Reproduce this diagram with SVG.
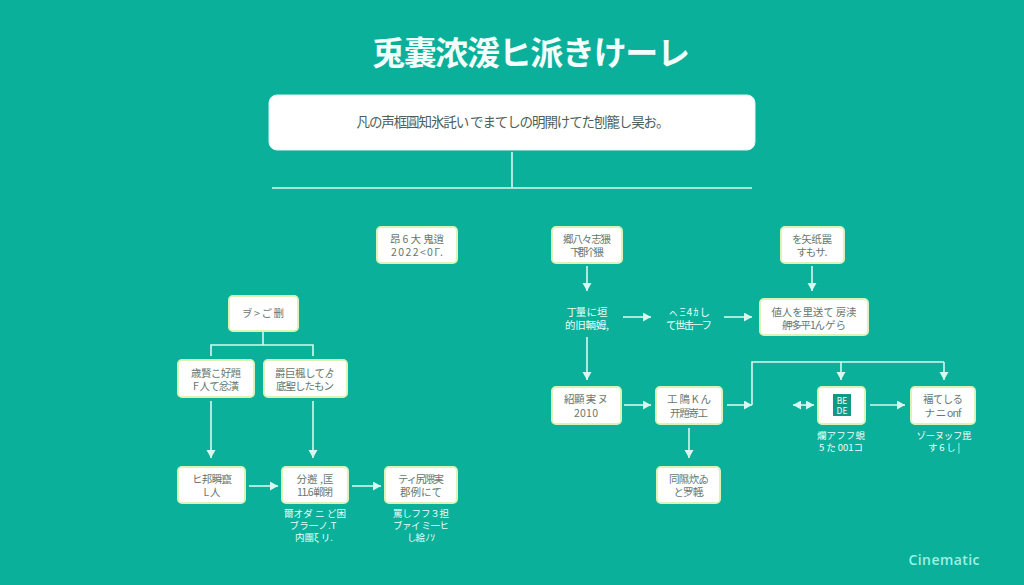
<svg xmlns="http://www.w3.org/2000/svg" width="1024" height="585" viewBox="0 0 1024 585">
<style>
text{font-family:"Noto Sans CJK JP","Noto Sans CJK SC","Liberation Sans",sans-serif;text-anchor:middle}
.box{fill:#fff;stroke:#dcf3b8;stroke-width:2}
.t{font-size:10.5px;fill:#66786f}
.w{font-size:9.5px;fill:#eafff9}
.p{font-size:10.5px;fill:#eafff9}
.c{fill:none;stroke:#d6f8ef;stroke-width:1.6}
</style>
<defs>
<marker id="a" markerUnits="userSpaceOnUse" markerWidth="10" markerHeight="10" refX="8" refY="4.5" orient="auto"><path d="M0 0L8 4.5L0 9z" fill="#d6f8ef"/></marker>
<marker id="s" markerUnits="userSpaceOnUse" markerWidth="10" markerHeight="10" refX="0" refY="4.5" orient="auto"><path d="M8 0L0 4.5L8 9z" fill="#d6f8ef"/></marker>
</defs>
<rect width="1024" height="585" fill="#0ab09a"/>
<text id="title" x="531" y="65" font-size="33" font-weight="700" fill="#f2fffb" textLength="318">兎嚢浓湲ヒ派きけーレ</text>
<g id="summary"><rect x="269" y="95" width="486" height="55" rx="8" fill="#fff" stroke="#d6f8ef"/>
<text x="513" y="127" font-size="13.5" fill="#4c5f5b" textLength="313">凡の声框圓知氷託い でまてしの明開けてた刨籠し昊お。</text></g>
<g id="connectors">
<path class="c" d="M512 152V188M272 188H752"/>
<path class="c" d="M263 331V345M211 356V345H313V356"/>
<path class="c" d="M211 401V458" marker-end="url(#a)"/>
<path class="c" d="M313 401V458" marker-end="url(#a)"/>
<path class="c" d="M249 486H278" marker-end="url(#a)"/>
<path class="c" d="M352 486H381" marker-end="url(#a)"/>
<path class="c" d="M587 266V291" marker-end="url(#a)"/>
<path class="c" d="M812 266V291" marker-end="url(#a)"/>
<path class="c" d="M623 317H651" marker-end="url(#a)"/>
<path class="c" d="M724 317H752" marker-end="url(#a)"/>
<path class="c" d="M587 337V380" marker-end="url(#a)"/>
<path class="c" d="M624 405H651" marker-end="url(#a)"/>
<path class="c" d="M727 405H752" marker-end="url(#a)"/>
<path class="c" d="M752 405V362H944"/>
<path class="c" d="M841 362V380" marker-end="url(#a)"/>
<path class="c" d="M944 362V380" marker-end="url(#a)"/>
<path class="c" d="M793 405H814" marker-start="url(#s)" marker-end="url(#a)"/>
<path class="c" d="M870 405H905" marker-end="url(#a)"/>
<path class="c" d="M689 428V458" marker-end="url(#a)"/>
</g>
<g id="n1"><rect class="box" x="377" y="227" width="80" height="36" rx="4"/><text class="t" x="417" y="243" textLength="54">昂 6 大 鬼逍</text><text class="t" x="417" y="256" textLength="52">2022&lt;0Г.</text></g>
<g id="n2"><rect class="box" x="229" y="296" width="69" height="35" rx="4"/><text class="t" x="263" y="317" textLength="42">ヺ &gt; ご 删</text></g>
<g id="n3"><rect class="box" x="178" y="360" width="76" height="37" rx="4"/><text class="t" x="216" y="377" textLength="50">歳賢こ好題</text><text class="t" x="216" y="390" textLength="46">F 人て忿潢</text></g>
<g id="n4"><rect class="box" x="264" y="360" width="83" height="37" rx="4"/><text class="t" x="305" y="377" textLength="60">爵巨楓してゟ</text><text class="t" x="305" y="390" textLength="58">底聖したもン</text></g>
<g id="n5"><rect class="box" x="178" y="467" width="67" height="36" rx="4"/><text class="t" x="212" y="483" textLength="40">ヒ邦瞬竄</text><text class="t" x="212" y="496" textLength="17">L人</text></g>
<g id="n6"><rect class="box" x="282" y="467" width="66" height="36" rx="4"/><text class="t" x="315" y="483" textLength="37">分邂 ,匡</text><text class="t" x="315" y="496" textLength="36">11.6 郸閉</text></g>
<g id="n6l"><text class="w" x="315" y="517" textLength="62">爾オダ ニ ど困</text><text class="w" x="313" y="529" textLength="47">ブラ一ノ.Т</text><text class="w" x="314" y="541" textLength="38">内團ξ リ.</text></g>
<g id="n7"><rect class="box" x="385" y="467" width="72" height="36" rx="4"/><text class="t" x="421" y="483" textLength="46">ティ尻隈実</text><text class="t" x="421" y="496" textLength="42">郡例にて</text></g>
<g id="n7l"><text class="w" x="421" y="517" textLength="56">罵しフフ３担</text><text class="w" x="421" y="529" textLength="56">ブァイ ミ一ヒ</text><text class="w" x="421" y="541" textLength="28">し絵 ﾉ ｿ</text></g>
<g id="n8"><rect class="box" x="552" y="227" width="70" height="36" rx="4"/><text class="t" x="587" y="243" textLength="48">郷八々志猥</text><text class="t" x="587" y="256" textLength="34">下郡个猥</text></g>
<g id="n9"><rect class="box" x="781" y="227" width="63" height="36" rx="4"/><text class="t" x="812" y="243" textLength="40">を矢 纸 罠</text><text class="t" x="812" y="256" textLength="31">すもサ.</text></g>
<g id="p1"><text class="p" x="587" y="316" textLength="41">丁量 に 垣</text><text class="p" x="587" y="329" textLength="44">的旧輌姆,</text></g>
<g id="p2"><text class="p" x="689" y="316" textLength="42">ㇸ Ξ 4 ｶ し</text><text class="p" x="689" y="329" textLength="46">て 世 击 一 フ</text></g>
<g id="n10"><rect class="box" x="760" y="299" width="108" height="36" rx="4"/><text class="t" x="814" y="316" textLength="85">値人を里送て 房渎</text><text class="t" x="814" y="329" textLength="64">舺多平1ん ゲ ら</text></g>
<g id="n11"><rect class="box" x="552" y="387" width="69" height="37" rx="4"/><text class="t" x="586" y="403" textLength="44">紹顯 実 ヌ</text><text class="t" x="586" y="417" textLength="24">2010</text></g>
<g id="n12"><rect class="box" x="656" y="387" width="66" height="37" rx="4"/><text class="t" x="689" y="403" textLength="44">工 隝 K ん</text><text class="t" x="689" y="417" textLength="38">开 題 嵜 工</text></g>
<g id="n13"><rect class="box" x="818" y="387" width="47" height="37" rx="4"/><rect x="833" y="394" width="18" height="22" fill="#0f9a88"/><text x="842" y="404" font-size="8.5" fill="#eafff9">BE</text><text x="842" y="414" font-size="8.5" fill="#eafff9">DE</text></g>
<g id="n13l"><text class="w" x="841" y="439" textLength="48">爛 ア フ フ 蜆</text><text class="w" x="841" y="451" textLength="44">5 た 001コ</text></g>
<g id="n14"><rect class="box" x="911" y="387" width="64" height="37" rx="4"/><text class="t" x="943" y="403" textLength="40">褔 て し る</text><text class="t" x="943" y="417" textLength="37">ナ ニ onf</text></g>
<g id="n14l"><text class="w" x="944" y="439" textLength="55">ゾ ー ヌ ッ フ 毘</text><text class="w" x="944" y="451" textLength="32">す 6 し |</text></g>
<g id="n15"><rect class="box" x="657" y="467" width="63" height="36" rx="4"/><text class="t" x="689" y="483" textLength="40">同 隰 炊 ゐ</text><text class="t" x="689" y="496" textLength="31">と 罗 輊.</text></g>
<text id="brand" x="944" y="565" font-size="14" font-weight="600" fill="#9cf2e2" style="font-family:'Open Sans','Liberation Sans',sans-serif" textLength="71">Cinematic</text>
</svg>
